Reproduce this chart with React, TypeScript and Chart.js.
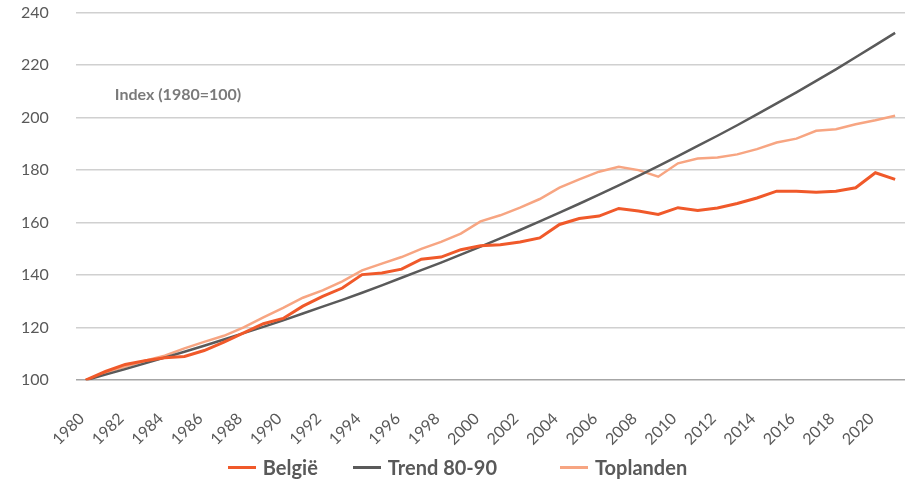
import React, { useEffect, useRef } from "react";
import { Chart, registerables } from "chart.js";

Chart.register(...registerables);

const years: string[] = [
  "1980", "1981", "1982", "1983", "1984", "1985", "1986", "1987", "1988", "1989",
  "1990", "1991", "1992", "1993", "1994", "1995", "1996", "1997", "1998", "1999",
  "2000", "2001", "2002", "2003", "2004", "2005", "2006", "2007", "2008", "2009",
  "2010", "2011", "2012", "2013", "2014", "2015", "2016", "2017", "2018", "2019",
  "2020", "2021",
];

const belgie: number[] = [
  100, 103.3, 106.0, 107.4, 108.5, 109.0, 111.3, 114.5, 118.0, 121.5,
  123.5, 128.2, 131.9, 135.1, 140.2, 140.8, 142.3, 146.1, 146.9, 149.7,
  151.2, 151.6, 152.6, 154.2, 159.3, 161.6, 162.5, 165.4, 164.4, 163.1,
  165.7, 164.6, 165.6, 167.3, 169.4, 172.0, 172.0, 171.6, 172.0, 173.3,
  179.0, 176.5,
];

const trend8090: number[] = [
  100, 102.1, 104.2, 106.4, 108.6, 110.8, 113.1, 115.5, 117.9, 120.3,
  122.8, 125.4, 128.0, 130.6, 133.3, 136.1, 139.0, 141.9, 144.8, 147.8,
  150.9, 154.0, 157.2, 160.5, 163.8, 167.2, 170.7, 174.2, 177.8, 181.5,
  185.3, 189.2, 193.1, 197.1, 201.2, 205.4, 209.6, 214.0, 218.4, 223.0,
  227.6, 232.3,
];

const toplanden: number[] = [
  100, 102.9, 105.1, 107.4, 109.3, 112.1, 114.6, 116.9, 120.1, 123.9,
  127.5, 131.4, 134.2, 137.6, 141.8, 144.4, 146.9, 150.0, 152.7, 155.8,
  160.5, 162.8, 165.7, 169.0, 173.3, 176.5, 179.4, 181.3, 180.0, 177.5,
  182.6, 184.4, 184.8, 186.0, 188.0, 190.5, 192.0, 195.0, 195.6, 197.5,
  199.0, 200.7,
];

const seriesNames: string[] = ["België", "Trend 80-90", "Toplanden"];
const seriesColors: string[] = ["#F0592A", "#5A5A5A", "#F7A582"];
const yTicks: number[] = [100, 120, 140, 160, 180, 200, 220, 240];
const annotationText = "Index (1980=100)";

const FONT = "Lato, 'Open Sans', sans-serif";

const annotationPlugin = {
  id: "indexLabel",
  afterDraw(chart: any) {
    const { ctx, chartArea, scales } = chart;
    const y = scales.y.getPixelForValue(208.6);
    ctx.save();
    ctx.font = `bold 16px ${FONT}`;
    ctx.fillStyle = "#7A7A7A";
    ctx.textAlign = "left";
    ctx.textBaseline = "middle";
    ctx.fillText(annotationText, chartArea.left + 39, y);
    ctx.restore();
  },
};

export default function App() {
  const canvasRef = useRef<HTMLCanvasElement | null>(null);

  useEffect(() => {
    if (!canvasRef.current) return;
    const data = [belgie, trend8090, toplanden];
    const widths = [3, 2.5, 2.5];
    const chart = new Chart(canvasRef.current, {
      type: "line",
      data: {
        labels: years,
        datasets: seriesNames.map((name, i) => ({
          label: name,
          data: data[i],
          borderColor: seriesColors[i],
          backgroundColor: seriesColors[i],
          borderWidth: widths[i],
          pointRadius: 0,
          tension: 0,
          fill: false,
        })),
      },
      options: {
        animation: false,
        responsive: true,
        maintainAspectRatio: false,
        layout: { padding: { left: 18, right: 10, top: 0, bottom: 34 } },
        plugins: {
          legend: { display: false },
          tooltip: { enabled: false },
        },
        scales: {
          x: {
            type: "category",
            offset: true,
            grid: {
              display: true,
              drawOnChartArea: false,
              drawTicks: true,
              tickLength: 26,
              tickColor: "rgba(0,0,0,0)",
              color: "rgba(0,0,0,0)",
            },
            border: { display: false },
            ticks: {
              autoSkip: false,
              maxRotation: 45,
              minRotation: 45,
              padding: 3,
              labelOffset: -4,
              color: "#595959",
              font: { family: FONT, size: 16 },
              callback: function (this: any, _v: any, idx: number) {
                const lbl = years[idx];
                return Number(lbl) % 2 === 0 ? lbl : "";
              },
            },
          },
          y: {
            min: 100,
            max: 240,
            afterBuildTicks: (axis: any) => {
              axis.ticks = yTicks.map((v) => ({ value: v }));
            },
            grid: {
              drawTicks: true,
              tickLength: 24,
              tickColor: "rgba(0,0,0,0)",
              color: (c: any) => (c.tick && c.tick.value === 100 ? "#A6A6A6" : "#D0D0D0"),
              lineWidth: 1.5,
            },
            border: { display: false },
            ticks: {
              padding: 3,
              color: "#595959",
              font: { family: FONT, size: 16 },
            },
          },
        },
      },
      plugins: [annotationPlugin],
    });
    return () => chart.destroy();
  }, []);

  const gaps = [0, 35, 63];

  return (
    <div style={{ position: "absolute", left: 0, top: 0, width: 915, height: 486, background: "#fff" }}>
      <canvas ref={canvasRef} />
      <div
        style={{
          position: "absolute",
          left: 0,
          top: 454,
          width: 915,
          display: "flex",
          justifyContent: "center",
          alignItems: "center",
          fontFamily: FONT,
          fontWeight: "bold",
          fontSize: 20,
          color: "#595959",
          lineHeight: "26px",
        }}
      >
        {seriesNames.map((name, i) => (
          <div key={name} style={{ display: "flex", alignItems: "center", marginLeft: gaps[i] }}>
            <span style={{ display: "inline-block", width: 28, height: 3, background: seriesColors[i], marginRight: 7 }} />
            <span>{name}</span>
          </div>
        ))}
      </div>
    </div>
  );
}
